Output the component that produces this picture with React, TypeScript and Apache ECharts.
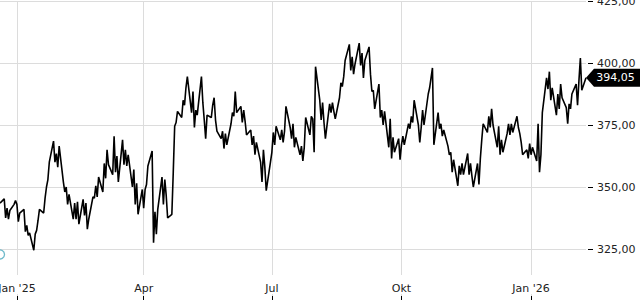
import React, { useEffect, useRef } from 'react';
import * as echarts from 'echarts';

// Prices per trading day (alternating high/low swings)
const dec24 = [343.5, 345.2, 337.5, 341.5, 337.0, 340.5, 343.0, 344.5];
const jan25 = [343.0, 336.0, 339.5, 341.0, 332.0, 334.5, 330.5, 331.5, 324.5, 331.0, 332.5, 336.5, 341.0, 339.5, 345.5, 350.0, 353.0, 360.0, 368.5, 360.0, 363.5, 358.0, 366.5];
const feb25 = [352.0, 348.0, 350.0, 343.0, 347.0, 337.0, 343.5, 337.0, 344.0, 335.0, 345.0, 338.5, 343.5, 333.0, 337.0, 346.0, 345.5, 350.5, 346.0, 354.0];
const mar25 = [348.0, 359.5, 353.5, 365.0, 359.0, 355.0, 370.5, 356.0, 362.5, 352.0, 369.0, 359.0, 365.0, 358.5, 363.0, 350.0, 357.0, 343.0, 351.5, 339.0, 349.0];
const apr25 = [341.5, 349.0, 351.0, 358.5, 364.5, 327.5, 340.0, 331.0, 341.0, 354.0, 343.0, 353.0, 346.5, 337.5, 339.0, 356.0, 374.5, 376.0, 380.5, 378.0, 385.0, 383.0];
const may25 = [390.0, 394.5, 380.0, 388.5, 374.0, 381.0, 379.0, 394.5, 384.0, 377.0, 369.5, 379.0, 378.0, 383.0, 386.0, 377.0, 372.5, 369.5, 372.5, 365.5, 371.5, 367.0];
const jun25 = [375.5, 380.0, 378.5, 388.5, 380.0, 382.5, 376.0, 381.0, 376.5, 371.0, 373.0, 367.0, 370.5, 363.0, 368.0, 360.0, 352.0, 365.0, 358.0, 348.5, 360.0];
const jul25 = [364.0, 372.0, 367.0, 374.5, 369.0, 373.0, 368.0, 372.5, 382.5, 374.0, 369.5, 375.5, 366.0, 370.0, 363.0, 366.5, 360.5, 366.0, 378.0, 371.0, 378.5, 377.5, 364.0];
const aug25 = [398.5, 385.0, 377.0, 384.0, 376.0, 369.5, 383.5, 380.0, 384.0, 380.5, 377.5, 386.0, 392.0, 390.5, 394.5, 401.0, 407.5, 397.0, 402.5, 395.5, 399.5];
const sep25 = [408.0, 399.0, 404.0, 394.0, 401.0, 406.5, 395.5, 388.5, 389.0, 381.5, 391.5, 378.0, 381.0, 375.0, 380.5, 366.0, 377.5, 361.5, 370.0, 364.0, 369.5, 361.0];
const oct25 = [367.0, 370.5, 367.0, 375.5, 373.5, 378.5, 376.0, 385.0, 375.0, 368.0, 374.0, 381.0, 375.0, 387.5, 390.0, 394.0, 398.0, 367.0, 380.0, 373.5, 375.5, 370.5, 373.0];
const nov25 = [366.5, 363.0, 364.0, 356.0, 361.0, 350.5, 358.5, 355.0, 359.5, 355.0, 363.5, 355.0, 359.5, 354.5, 350.0, 359.5, 351.0, 361.5, 369.0, 375.5];
const dec25 = [372.0, 378.5, 374.0, 381.5, 375.0, 366.0, 374.5, 363.0, 369.0, 364.0, 371.5, 375.5, 371.0, 375.5, 372.0, 378.5, 374.0, 371.5, 368.0, 363.0, 365.0, 361.5, 367.5];
const jan26 = [363.0, 366.0, 360.5, 375.5, 356.0, 363.0, 380.0, 394.0, 389.5, 396.5, 385.0, 390.0, 379.0, 387.5, 381.5, 391.5, 386.0, 382.0, 375.5, 383.5, 381.5, 387.5];
const feb26 = [391.5, 383.0, 393.0, 402.0, 389.0, 394.05];

// month blocks: [year, monthIndex, firstDay, lastDay, values]
const monthBlocks: [number, number, number, number, number[]][] = [
  [2024, 11, 20, 31, dec24],
  [2025, 0, 1, 31, jan25],
  [2025, 1, 1, 28, feb25],
  [2025, 2, 1, 31, mar25],
  [2025, 3, 1, 30, apr25],
  [2025, 4, 1, 31, may25],
  [2025, 5, 1, 30, jun25],
  [2025, 6, 1, 31, jul25],
  [2025, 7, 1, 31, aug25],
  [2025, 8, 1, 30, sep25],
  [2025, 9, 1, 31, oct25],
  [2025, 10, 1, 30, nov25],
  [2025, 11, 1, 31, dec25],
  [2026, 0, 1, 31, jan26],
  [2026, 1, 1, 9, feb26],
];

// axis tick dates (quarter starts)
const tickDates: [number, number, number][] = [
  [2025, 0, 1],
  [2025, 3, 1],
  [2025, 6, 1],
  [2025, 9, 1],
  [2026, 0, 1],
];
const monthNames = ['Jan', 'Feb', 'Mär', 'Apr', 'Mai', 'Jun', 'Jul', 'Aug', 'Sep', 'Okt', 'Nov', 'Dez'];

// event marker (dividend-type icon)
const eventValues = [322.8];

const yTicks = { min: 300, max: 425, interval: 25 };

function weekdays(y: number, m: number, from: number, to: number): number[] {
  const out: number[] = [];
  for (let d = from; d <= to; d++) {
    const dt = new Date(y, m, d);
    if (dt.getMonth() !== m) break;
    const wd = dt.getDay();
    if (wd !== 0 && wd !== 6) out.push(dt.getTime());
  }
  return out;
}

function buildSeries(): [number, number][] {
  const data: [number, number][] = [];
  monthBlocks.forEach(([y, m, from, to, vals]) => {
    const days = weekdays(y, m, from, to);
    const n = Math.min(days.length, vals.length);
    for (let i = 0; i < n; i++) data.push([days[i], vals[i]]);
  });
  return data;
}

const fmt = (v: number) => v.toFixed(2).replace('.', ',');

export default function App() {
  const ref = useRef<HTMLDivElement>(null);
  useEffect(() => {
    if (!ref.current) return;
    const chart = echarts.init(ref.current, undefined, { renderer: 'svg' });
    const data = buildSeries();
    const first = data[0][0];
    const last = data[data.length - 1];
    const ticks = tickDates.map(([y, m, d]) => new Date(y, m, d).getTime());
    const font = 'DejaVu Sans';
    chart.setOption({
      animation: false,
      grid: { left: 0, right: 54, top: 1, bottom: -11, containLabel: false, outerBoundsMode: 'none' },
      xAxis: {
        type: 'value',
        min: first,
        max: last[0],
        scale: true,
        axisLine: { show: false },
        axisTick: {
          show: true,
          inside: true,
          length: 15,
          customValues: ticks,
          lineStyle: { color: '#000' },
        },
        axisLabel: {
          inside: true,
          margin: 17,
          customValues: ticks,
          fontSize: 11,
          fontFamily: font,
          color: '#222',
          backgroundColor: '#fff',
          padding: [8, 2, 0, 2],
          formatter: (v: number) => {
            const d = new Date(v);
            const m = d.getMonth();
            return m === 0 ? `Jan '${String(d.getFullYear()).slice(2)}` : monthNames[m];
          },
        },
        splitLine: { show: true, lineStyle: { color: '#dcdcdc', width: 1 } },
      },
      yAxis: {
        type: 'value',
        position: 'right',
        min: yTicks.min,
        max: yTicks.max,
        interval: yTicks.interval,
        offset: 2,
        axisLine: { show: false },
        axisTick: { show: true, length: 5, lineStyle: { color: '#000' } },
        axisLabel: {
          margin: 9,
          fontSize: 11,
          fontFamily: font,
          color: '#222',
          showMinLabel: false,
          formatter: (v: number) => fmt(v),
        },
        splitLine: { show: true, lineStyle: { color: '#dcdcdc', width: 1 } },
      },
      series: [
        {
          type: 'line',
          data,
          showSymbol: false,
          z: 3,
          lineStyle: { color: '#000', width: 1.6 },
          itemStyle: { color: '#000' },
          markPoint: {
            silent: true,
            symbol: 'path://M0,9L8,0L55,0L55,18L8,18Z',
            symbolSize: [55, 18],
            symbolKeepAspect: false,
            symbolOffset: [27.5, 0],
            itemStyle: { color: '#000' },
            label: {
              show: true,
              position: 'inside',
              offset: [2, 0],
              color: '#fff',
              fontSize: 11,
              fontFamily: font,
              formatter: () => fmt(last[1]),
            },
            data: [{ coord: [last[0], last[1]] }],
          },
        },
        {
          type: 'scatter',
          data: eventValues.map((v) => [first, v]),
          symbol: 'circle',
          symbolSize: 9,
          clip: false,
          z: 4,
          itemStyle: { color: '#ffffff', borderColor: '#49a7bd', borderWidth: 1.3 },
        },
      ],
    });
    return () => chart.dispose();
  }, []);
  return (
    <div
      ref={ref}
      style={{ position: 'fixed', left: 0, top: 0, width: 640, height: 300, background: '#fff' }}
    />
  );
}
